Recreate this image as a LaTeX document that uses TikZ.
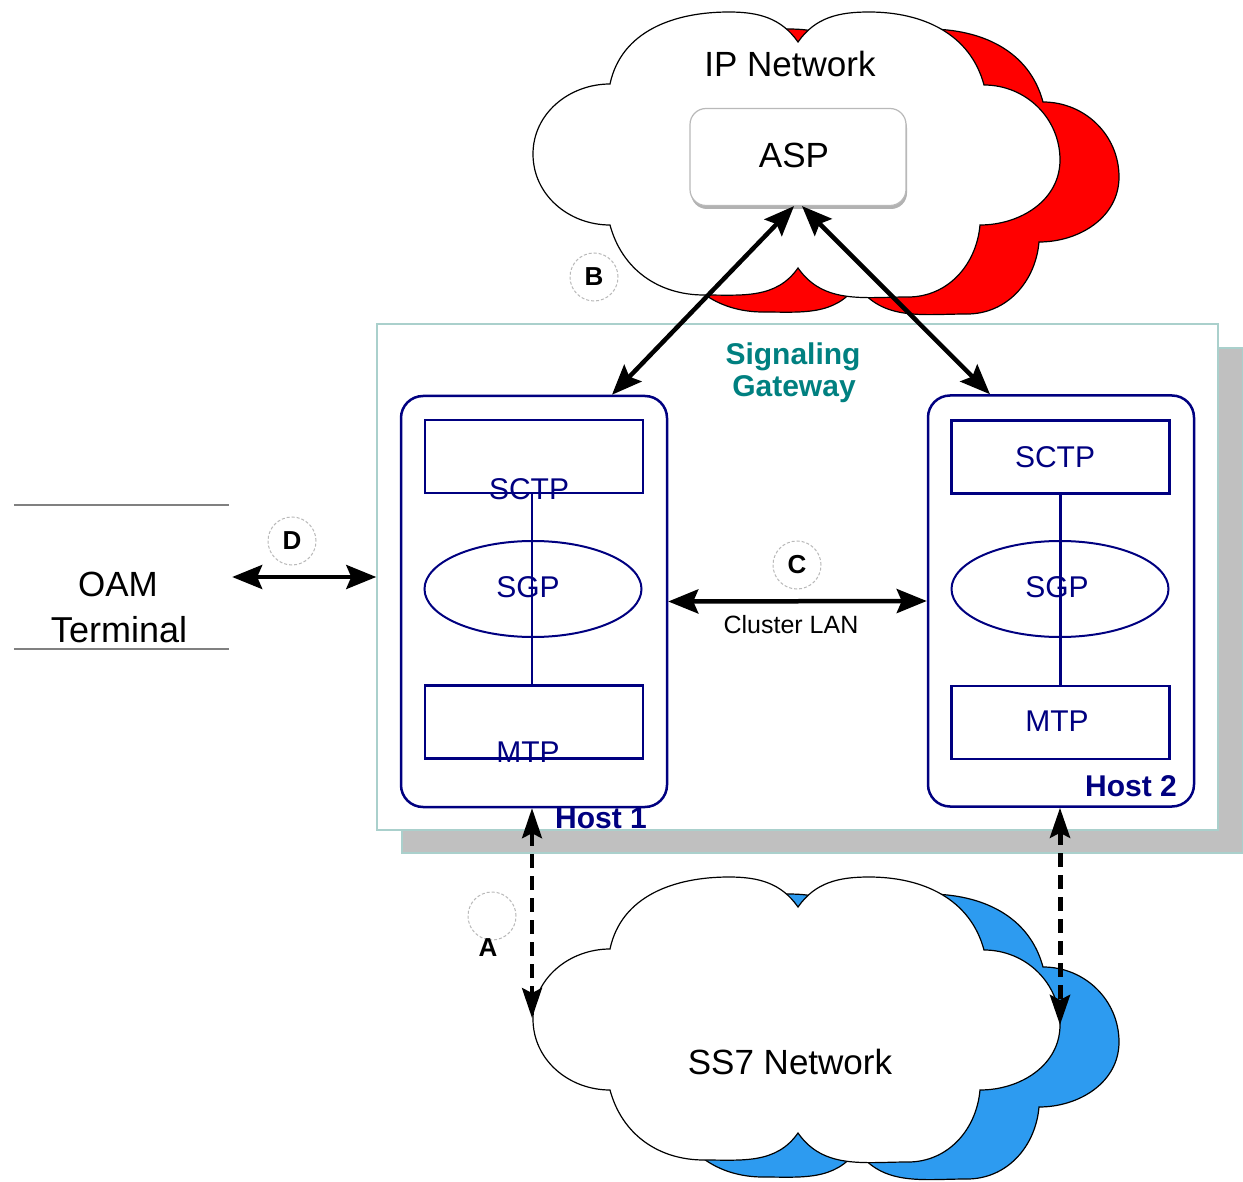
\documentclass[tikz,border=0pt]{standalone}
\usepackage{fontspec}
\setmainfont{Liberation Sans}
\usetikzlibrary{shapes.geometric,arrows.meta}
\definecolor{navy}{RGB}{0,0,128}
\definecolor{gwteal}{RGB}{0,128,128}
\definecolor{ipred}{RGB}{255,0,0}
\definecolor{ssblue}{RGB}{45,155,240}
\definecolor{panelline}{RGB}{170,208,204}
\definecolor{panelshadow}{RGB}{192,192,192}
% cloud outline, local coordinates around the cloud centre
\def\cloudshape{(-187,-72) to[out=78,in=180] (-68,-144) to[out=0,in=125] (1,-114)
  to[out=55,in=180] (72,-144) to[out=0,in=105] (187,-71)
  to[out=0,in=90] (263,4) to[out=-90,in=0] (183,69)
  to[out=-95,in=0] (111,141) to[out=180,in=-55] (1,112)
  to[out=-125,in=0] (-93,139) to[out=180,in=-75] (-187,69)
  to[out=180,in=-90] (-264,-2) to[out=90,in=180] (-187,-72) -- cycle}
\tikzset{
  hostbox/.style={draw=navy, line width=2.5pt, rounded corners=22pt, fill=white,
    minimum width=266pt, minimum height=411pt, inner sep=0pt},
  layerbox/.style={draw=navy, line width=2.5pt, minimum width=218pt,
    minimum height=73pt, inner sep=0pt},
  sgpshape/.style={draw=navy, line width=2pt, ellipse, minimum width=217pt,
    minimum height=96pt, inner sep=0pt},
  layertext/.style={text=navy, font=\fontsize{30}{34}\selectfont, inner sep=0pt},
  hosttext/.style={text=navy, font=\bfseries\fontsize{30}{34}\selectfont, inner sep=0pt},
  gwtext/.style={text=gwteal, font=\bfseries\fontsize{30}{34}\selectfont, inner sep=0pt, anchor=base},
  nettext/.style={font=\fontsize{35}{40}\selectfont, inner sep=0pt},
  tag/.style={circle, draw=gray!55, line width=1pt, densely dashed, minimum size=48pt,
    inner sep=0pt, font=\bfseries\fontsize{26}{30}\selectfont},
  tagtext/.style={font=\bfseries\fontsize{26}{30}\selectfont, inner sep=0pt},
  link/.style={line width=4.5pt,
    {Stealth[length=30pt,width=24pt,inset=5pt]}-{Stealth[length=30pt,width=24pt,inset=5pt]}},
  dlink/.style={line width=3.5pt, dash pattern=on 14pt off 8pt,
    {Stealth[length=30pt,width=20pt,inset=5pt]}-{Stealth[length=30pt,width=20pt,inset=5pt]}},
}
\begin{document}
\begin{tikzpicture}[x=1pt, y=-1pt]
\useasboundingbox (0,0) rectangle (1243,1182);
\fill[white] (0,0) rectangle (1243,1182);

% signaling gateway panel with its shadow
\filldraw[fill=panelshadow, draw=panelline, line width=1.5pt] (402,348) rectangle (1243,853);
\node[draw=panelline, line width=1.5pt, fill=white, minimum width=841pt,
  minimum height=506pt, inner sep=0pt] (panel) at (797.5,577) {};
\node[gwtext] (gw1) at (793,365) {Signaling};
\node[gwtext] (gw2) at (794,397) {Gateway};

% IP network cloud
\begin{scope}[shift={(856,173)}]
  \draw[fill=ipred, line width=1.2pt] \cloudshape;
\end{scope}
\begin{scope}[shift={(797,156)}]
  \draw[fill=white, line width=1.2pt] \cloudshape;
\end{scope}
\node[nettext] (ipnet) at (790,64) {IP Network};

% SS7 network cloud
\begin{scope}[shift={(856,1038)}]
  \draw[fill=ssblue, line width=1.2pt] \cloudshape;
\end{scope}
\begin{scope}[shift={(797,1021)}]
  \draw[fill=white, line width=1.2pt] \cloudshape;
\end{scope}
\node[nettext] (ss7net) at (790,1062) {SS7 Network};
\coordinate (ss7L) at (532,1018);
\coordinate (ss7R) at (1060,1025);

% ASP
\fill[gray!60, rounded corners=16pt] (691,112) rectangle (907,209);
\node[draw=gray!55, line width=1.2pt, rounded corners=16pt, fill=white,
  minimum width=216pt, minimum height=97pt, inner sep=0pt] (asp) at (798,157) {};
\node[font=\fontsize{35}{40}\selectfont, inner sep=0pt] (asptext) at (794,155) {ASP};

% OAM terminal
\node[minimum width=215pt, minimum height=144pt, inner sep=0pt] (oam) at (121.5,577) {};
\draw[gray, line width=1.5pt] (oam.north west) -- (oam.north east)
  (oam.south west) -- (oam.south east);
\node[nettext] (oam1) at (118,584) {OAM};
\node[nettext, font=\fontsize{36}{40}\selectfont] (oam2) at (119,630) {Terminal};

% host 1
\node[hostbox] (host1) at (534,601.5) {};
\node[layerbox] (sctp1) at (534,456.5) {};
\node[sgpshape] (sgp1) at (533,589) {};
\node[layerbox] (mtp1) at (534,722) {};
\node[layertext] (sctp1t) at (529,489) {SCTP};
\node[layertext] (sgp1t) at (528,587) {SGP};
\node[layertext] (mtp1t) at (528,752) {MTP};
\draw[navy, line width=2.5pt] ([xshift=-2pt]sctp1.south) -- ([xshift=-2pt]mtp1.north);
\node[hosttext] (h1t) at (601,818) {Host 1};

% host 2
\node[hostbox] (host2) at (1061,601) {};
\node[layerbox] (sctp2) at (1060.5,457) {};
\node[sgpshape] (sgp2) at (1060,589) {};
\node[layerbox] (mtp2) at (1060.5,722.5) {};
\node[layertext] (sctp2t) at (1055,457) {SCTP};
\node[layertext] (sgp2t) at (1057,587) {SGP};
\node[layertext] (mtp2t) at (1057,721) {MTP};
\draw[navy, line width=2.5pt] (sctp2.south) -- (mtp2.north);
\node[hosttext] (h2t) at (1131,786) {Host 2};

% connections
\draw[link] ([xshift=78pt]host1.north) -- ([xshift=-4pt]asp.south);
\draw[link] ([xshift=4pt]asp.south) -- ([xshift=-71pt]host2.north);
\draw[link, line width=4pt] ([xshift=3pt]oam.east) -- (panel.west);
\draw[link] (host1.east) -- (host2.west);
\node[font=\fontsize{25}{28}\selectfont, inner sep=0pt] (lan) at (791,625) {Cluster LAN};
\draw[dlink] ([xshift=-2pt]host1.south) -- (ss7L);
\draw[dlink, line width=5pt] ([xshift=-1pt]host2.south) -- (ss7R);

% reference tags
\node[tag] (tagB) at (594,277) {B};
\node[tag] (tagC) at (797,565) {C};
\node[tag] (tagD) at (292,541) {D};
\node[tag] (tagA) at (492,916) {};
\node[tagtext] (tagAt) at (488,948) {A};
\end{tikzpicture}
\end{document}
